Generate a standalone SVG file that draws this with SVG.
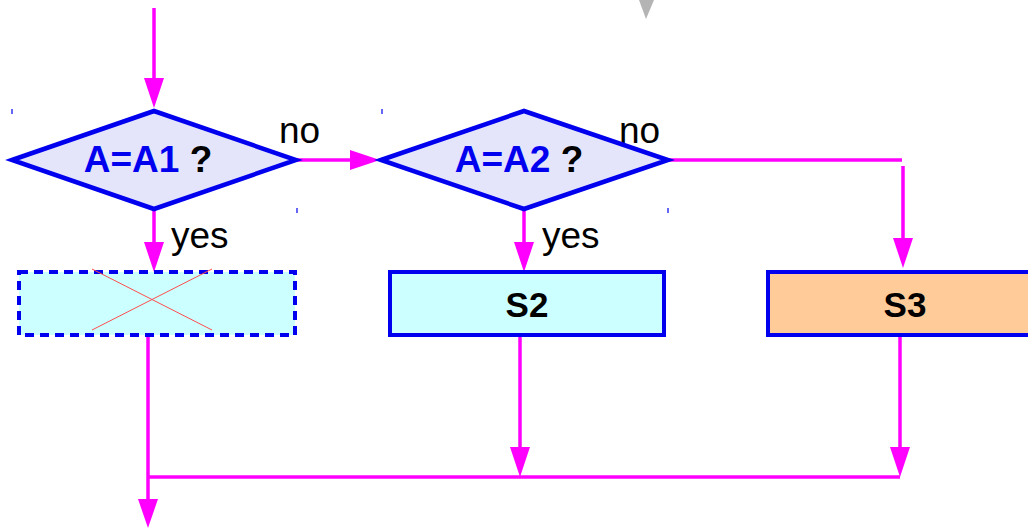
<svg xmlns="http://www.w3.org/2000/svg" width="1028" height="529" viewBox="0 0 1028 529">
<defs>
<style>
.c{stroke:#ff00ff;stroke-width:3.5;fill:none}
.ah{fill:#ff00ff}
.dia{fill:#e4e4fb;stroke:#0000ee;stroke-width:4.5;stroke-linejoin:miter}
.box{stroke:#0000ee;stroke-width:4}
.q{font-family:"Liberation Sans",Arial,sans-serif;font-weight:bold;font-size:37px}
.s{font-family:"Liberation Sans",Arial,sans-serif;font-weight:bold;font-size:35px;fill:#000}
.lbl{font-family:"Liberation Sans",Arial,sans-serif;font-size:37px;fill:#000}
.tick{stroke:#0000ee;stroke-width:1.2}
</style>
</defs>
<rect width="1028" height="529" fill="#fff"/>
<polygon points="639,0 654,0 646,19" fill="#b4b4b4"/>
<g id="connectors">
<line class="c" x1="154" y1="8" x2="154" y2="80"/>
<polygon class="ah" points="144,78 164,78 154,108"/>
<line class="c" x1="297" y1="160" x2="352" y2="160"/>
<polygon class="ah" points="350,150 350,170 380,160"/>
<line class="c" x1="668" y1="160" x2="902" y2="160"/>
<line class="c" x1="903" y1="166" x2="903" y2="240"/>
<polygon class="ah" points="893,238 913,238 903,268"/>
<line class="c" x1="154" y1="209" x2="154" y2="244"/>
<polygon class="ah" points="144,242 164,242 154,272"/>
<line class="c" x1="524" y1="209" x2="524" y2="244"/>
<polygon class="ah" points="514,242 534,242 524,272"/>
<line class="c" x1="148" y1="335" x2="148" y2="502"/>
<polygon class="ah" points="138,499 158,499 148,528"/>
<line class="c" x1="148" y1="477" x2="900" y2="477"/>
<line class="c" x1="520" y1="335" x2="520" y2="450"/>
<polygon class="ah" points="510,447 530,447 520,477"/>
<line class="c" x1="900" y1="335" x2="900" y2="450"/>
<polygon class="ah" points="890,447 910,447 900,477"/>
<text class="lbl" x="279" y="143">no</text>
<text class="lbl" x="619" y="143">no</text>
<text class="lbl" x="171" y="248">yes</text>
<text class="lbl" x="542" y="248">yes</text>
</g>
<g id="d1">
<line class="tick" x1="12" y1="109" x2="12" y2="114"/>
<line class="tick" x1="297" y1="208" x2="297" y2="213"/>
<polygon class="dia" points="12,160 154,111 296,160 154,209"/>
<text class="q" x="148" y="172" text-anchor="middle"><tspan fill="#0000ee">A=A1</tspan> <tspan fill="#000">?</tspan></text>
</g>
<g id="d2">
<line class="tick" x1="382" y1="109" x2="382" y2="114"/>
<line class="tick" x1="668" y1="208" x2="668" y2="213"/>
<polygon class="dia" points="381,160 524,111 668,160 524,209"/>
<text class="q" x="519" y="172" text-anchor="middle"><tspan fill="#0000ee">A=A2</tspan> <tspan fill="#000">?</tspan></text>
</g>
<g id="s1">
<rect x="19" y="272" width="276" height="63" fill="#ccffff" stroke="#0000ee" stroke-width="4" stroke-dasharray="9,6"/>
<line x1="92" y1="269" x2="212" y2="330" stroke="#ff4d4d" stroke-width="1"/>
<line x1="212" y1="269" x2="92" y2="330" stroke="#ff4d4d" stroke-width="1"/>
</g>
<g id="s2">
<rect class="box" x="390" y="272" width="274" height="63" fill="#ccffff"/>
<text class="s" x="527" y="317" text-anchor="middle">S2</text>
</g>
<g id="s3">
<rect class="box" x="768" y="272" width="274" height="63" fill="#ffcc99"/>
<text class="s" x="905" y="317" text-anchor="middle">S3</text>
</g>
</svg>
